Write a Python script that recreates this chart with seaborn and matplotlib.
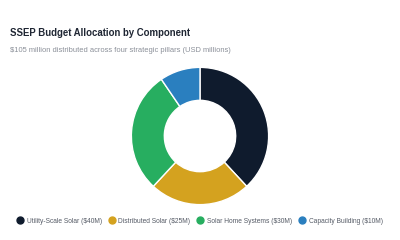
import matplotlib
matplotlib.use("Agg")
import matplotlib.pyplot as plt
from matplotlib.lines import Line2D
import seaborn as sns

categories = ["Utility-Scale Solar", "Distributed Solar", "Solar Home Systems", "Capacity Building"]
values = [40, 25, 30, 10]
colors = ["#0f1b2d", "#d4a21f", "#27ae60", "#2a7fbf"]
legend_labels = ["Utility-Scale Solar ($40M)", "Distributed Solar ($25M)",
                 "Solar Home Systems ($30M)", "Capacity Building ($10M)"]

sns.set_theme(style="white")
plt.rcParams['font.family'] = ['Liberation Sans', 'DejaVu Sans']

fig = plt.figure(figsize=(4, 2.4), dpi=100)
fig.patch.set_facecolor("white")

fig.text(0.025, 0.862, "SSEP Budget Allocation by Component", fontsize=6.9,
         fontweight="bold", color="#1f2633", va="center")
fig.text(0.025, 0.79, "$105 million distributed across four strategic pillars (USD millions)",
         fontsize=5.45, color="#8a8f98", va="center")

ax = fig.add_axes([0.5 - 0.175, 1 - 206/240, 0.35, 140/240])
ax.pie(values, colors=colors, startangle=90, counterclock=False,
       wedgeprops=dict(width=0.48, edgecolor="white", linewidth=1.0))
ax.set_aspect("equal")
ax.set_xlim(-1.02, 1.02)
ax.set_ylim(-1.02, 1.02)

handles = [Line2D([0], [0], marker="o", linestyle="", markersize=5,
                  markerfacecolor=c, markeredgecolor=c) for c in colors]
fig.legend(handles, legend_labels, loc="center", bbox_to_anchor=(0.5, 0.078),
           ncol=4, frameon=False, fontsize=4.75, handletextpad=0.62,
           columnspacing=1.1, labelcolor="#555b66", handlelength=0.8)

fig.savefig("out.png", dpi=100, facecolor="white")
